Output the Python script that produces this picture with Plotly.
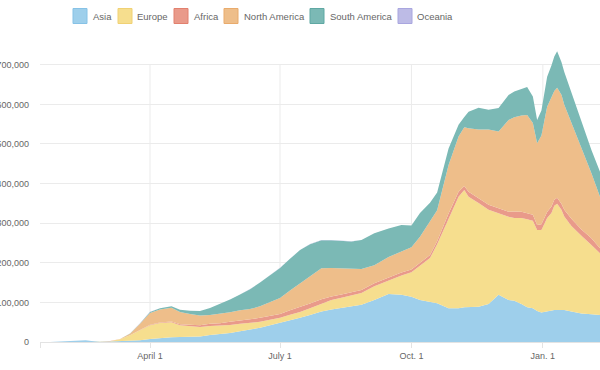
import plotly.graph_objects as go

# ---- data (7-day average new cases, thousands) ----
dates = [
    "2020-01-22", "2020-01-29", "2020-02-05", "2020-02-12", "2020-02-16", "2020-02-20",
    "2020-02-26", "2020-03-04", "2020-03-11", "2020-03-18", "2020-03-25", "2020-04-01",
    "2020-04-08", "2020-04-16", "2020-04-22", "2020-04-29", "2020-05-06", "2020-05-13",
    "2020-05-20", "2020-05-27", "2020-06-03", "2020-06-10", "2020-06-17", "2020-06-24",
    "2020-07-01", "2020-07-08", "2020-07-15", "2020-07-22", "2020-07-30", "2020-08-06",
    "2020-08-13", "2020-08-20", "2020-08-27", "2020-09-05", "2020-09-15", "2020-09-24",
    "2020-10-01", "2020-10-07", "2020-10-14", "2020-10-19", "2020-10-27", "2020-11-03",
    "2020-11-07", "2020-11-10", "2020-11-17", "2020-11-24", "2020-12-01", "2020-12-08",
    "2020-12-12", "2020-12-17", "2020-12-21", "2020-12-25", "2020-12-28", "2020-12-31",
    "2021-01-04", "2021-01-07", "2021-01-09", "2021-01-11", "2021-01-14", "2021-01-16",
    "2021-01-21", "2021-01-26", "2021-01-28", "2021-02-04", "2021-02-10",
]
asia_k = [
    0.1, 1.2, 3.2, 3.0, 4.5, 2.5,
    0.9, 1.4, 2.0, 3.0, 4.5, 7.5,
    10, 12, 12.6, 13, 14, 17.7,
    20, 23, 27, 31, 36, 42,
    48, 55, 61, 68, 77, 82,
    86, 90, 94, 106, 121, 119,
    114, 106, 102, 98, 85, 85,
    88, 88, 89, 96, 119, 106,
    104, 96, 88, 85, 78, 74.5,
    78, 80, 81, 81, 81, 81,
    77, 72.5, 72, 70, 68,
]
europe_k = [
    0, 0, 0, 0, 0, 0,
    0.1, 0.8, 5, 14, 26, 35,
    38, 38, 30, 27, 24, 22.7,
    21, 20, 19, 17, 15, 14,
    13, 14, 15, 17, 20, 24,
    26, 28, 30, 35, 35, 49,
    62, 86, 110, 149, 227, 282,
    296, 279, 262, 238, 206, 210,
    209, 217, 222, 221, 205, 208,
    235, 246, 263, 268, 253, 236,
    216, 202, 196, 175, 156,
]
africa_k = [
    0, 0, 0, 0, 0, 0,
    0, 0.01, 0.03, 0.1, 0.3, 0.8,
    1.0, 1.5, 2, 3, 4, 5.5,
    6.5, 8, 9, 9.5, 10, 10,
    10, 11, 12, 12, 11, 9,
    8, 8, 7.6, 7.6, 7.6, 7.6,
    7, 7.6, 7.6, 7.6, 12.6, 12.6,
    10, 12.6, 12.6, 12.6, 12.6, 12.6,
    16.7, 16, 15, 15, 12.6, 15,
    15, 16, 15, 15, 15, 17,
    18, 17, 16, 17, 13,
]
north_america_k = [
    0, 0, 0, 0, 0, 0,
    0, 0.05, 0.5, 4, 15, 30,
    33, 35, 31, 28, 25, 22,
    23, 24, 25, 26, 29, 34,
    40, 50, 60, 70, 78, 72,
    66, 58, 53, 45, 51, 53,
    56, 66, 84, 78, 122, 139,
    148, 160, 173, 190, 194, 232,
    238, 243, 248, 232, 206, 224,
    266, 275, 275, 278, 275, 265,
    242, 219, 209, 164, 130,
]
south_america_k = [
    0, 0, 0, 0, 0, 0,
    0, 0.01, 0.05, 0.3, 1.0, 2.5,
    3.0, 3.5, 6, 8, 11, 17.7,
    25, 32, 40, 50, 60, 68,
    76, 80, 84, 80, 71, 70,
    69, 70, 73, 81, 72, 67,
    55, 60, 48, 45, 42, 30,
    26, 42, 55, 50, 59, 63,
    65, 67, 71, 67, 59, 63,
    76, 81, 87, 92, 83, 83,
    76, 68, 67, 59, 63,
]
oceania_k = [
    0, 0, 0, 0, 0, 0,
    0, 0, 0.01, 0.1, 0.3, 0.3,
    0.1, 0.05, 0.03, 0.02, 0.02, 0.02,
    0.02, 0.02, 0.02, 0.03, 0.05, 0.1,
    0.2, 0.3, 0.4, 0.5, 0.5, 0.5,
    0.4, 0.3, 0.2, 0.1, 0.05, 0.05,
    0.03, 0.03, 0.03, 0.03, 0.03, 0.03,
    0.03, 0.03, 0.03, 0.03, 0.03, 0.03,
    0.03, 0.03, 0.03, 0.03, 0.03, 0.03,
    0.03, 0.03, 0.03, 0.03, 0.03, 0.03,
    0.03, 0.03, 0.03, 0.03, 0.03,
]

series_names = ["Asia", "Europe", "Africa", "North America", "South America", "Oceania"]
series_values = [asia_k, europe_k, africa_k, north_america_k, south_america_k, oceania_k]
fill_colors = ["#9ecfeb", "#f6de8e", "#e99a8a", "#eebe8a", "#7bb9b5", "#bdbbe6"]
border_colors = ["#86c2e6", "#f0d174", "#e2806e", "#e9ab6c", "#5fa8a3", "#a9a6df"]

x_tick_dates = ["2020-01-15", "2020-04-01", "2020-07-01", "2020-10-01", "2021-01-01"]
x_tick_labels = ["", "April 1", "July 1", "Oct. 1", "Jan. 1"]
y_tick_vals = [0, 100000, 200000, 300000, 400000, 500000, 600000, 700000]

FONT = "Liberation Sans, Arial, Helvetica, sans-serif"
GRID = "#ebebeb"

fig = go.Figure()
for name, vals, col in zip(series_names, series_values, fill_colors):
    fig.add_trace(go.Scatter(
        x=dates, y=[v * 1000 for v in vals], name=name,
        mode="lines", stackgroup="one", line=dict(width=0, color=col),
        fillcolor=col, showlegend=False, hoverinfo="skip",
    ))

# vertical grid lines (stop at the top tick, like the original)
shapes = []
for d in x_tick_dates[1:]:
    shapes.append(dict(type="line", xref="x", yref="y", x0=d, x1=d, y0=0, y1=y_tick_vals[-1],
                       line=dict(color=GRID, width=1), layer="below"))

# manual legend (px positions converted to paper coords)
L, T, W, H = 40, 41, 560, 301
def px(xp):
    return (xp - L) / W
def py(yp):
    return (T + H - yp) / H

box_x = [73, 118, 174, 224, 310, 398]
text_x = [91, 135, 192, 242, 328, 415]
annotations = []
for i, name in enumerate(series_names):
    shapes.append(dict(type="rect", xref="paper", yref="paper",
                       x0=px(box_x[i]), x1=px(box_x[i] + 14), y0=py(23.5), y1=py(8.5),
                       fillcolor=fill_colors[i], line=dict(color=border_colors[i], width=1)))
    annotations.append(dict(xref="paper", yref="paper", x=px(text_x[i]), y=py(16),
                            text=name, showarrow=False, xanchor="left", yanchor="middle",
                            font=dict(family=FONT, size=9.5, color="#666")))

fig.update_layout(
    width=600, height=370,
    margin=dict(l=L, r=0, t=T, b=370 - T - H, autoexpand=False),
    paper_bgcolor="white", plot_bgcolor="white",
    font=dict(family=FONT, size=9, color="#666"),
    shapes=shapes, annotations=annotations, showlegend=False,
    xaxis=dict(type="date", range=["2020-01-15", "2021-02-10"], automargin=False,
               tickmode="array", tickvals=x_tick_dates, ticktext=x_tick_labels,
               showgrid=False, ticks="outside", ticklen=5, tickcolor="#e3e3e3",
               showline=False, zeroline=False, tickfont=dict(size=9, color="#666")),
    yaxis=dict(range=[0, 760000], tickmode="array", tickvals=y_tick_vals, automargin=False,
               tickformat=",", showgrid=True, gridcolor=GRID, gridwidth=1,
               zeroline=True, zerolinecolor="#e3e3e3", zerolinewidth=1,
               showline=False, ticks="", ticklabelstandoff=10,
               tickfont=dict(size=9, color="#666")),
)

fig.write_html("out.html", config={"displayModeBar": False},
               post_script="document.body.style.margin='0';document.body.style.overflow='hidden';")
